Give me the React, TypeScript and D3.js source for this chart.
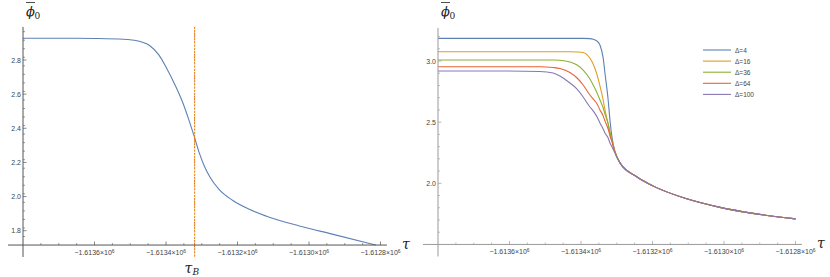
import * as d3 from 'd3';

// left panel: single curve with tau_B marker
const tauLeft = [-1613800, -1613650, -1613600, -1613520, -1613475, -1613446, -1613420, -1613399, -1613375, -1613354, -1613337, -1613320, -1613306, -1613292, -1613278, -1613251, -1613214, -1613167, -1613119, -1613027, -1612935, -1612813];
const phiLeft = [2.927, 2.927, 2.926, 2.922, 2.91, 2.885, 2.83, 2.755, 2.655, 2.555, 2.455, 2.345, 2.25, 2.175, 2.118, 2.04, 1.978, 1.925, 1.885, 1.828, 1.78, 1.716];
const tauB = -1613320;

// right panel: one tau grid, five Delta series
const tauRight = [-1613800, -1613627, -1613515, -1613478, -1613459, -1613431, -1613411, -1613394, -1613375, -1613366, -1613355, -1613347, -1613338, -1613333, -1613324, -1613319, -1613313, -1613305, -1613291, -1613243, -1613199, -1613104, -1613011, -1612919, -1612800];
const phiD4 = [3.185, 3.185, 3.185, 3.185, 3.185, 3.185, 3.185, 3.185, 3.183, 3.178, 3.163, 3.131, 3.025, 2.902, 2.681, 2.518, 2.371, 2.257, 2.167, 2.052, 1.979, 1.873, 1.803, 1.754, 1.709];
const phiD16 = [3.076, 3.076, 3.076, 3.076, 3.076, 3.076, 3.074, 3.069, 3.022, 2.975, 2.886, 2.796, 2.681, 2.6, 2.485, 2.412, 2.338, 2.257, 2.167, 2.052, 1.979, 1.873, 1.803, 1.754, 1.709];
const phiD36 = [3.008, 3.008, 3.008, 3.008, 3.006, 2.992, 2.967, 2.926, 2.853, 2.804, 2.739, 2.681, 2.616, 2.567, 2.485, 2.42, 2.346, 2.257, 2.167, 2.052, 1.979, 1.873, 1.803, 1.754, 1.709];
const phiD64 = [2.953, 2.953, 2.953, 2.947, 2.939, 2.906, 2.861, 2.804, 2.722, 2.69, 2.649, 2.6, 2.551, 2.51, 2.444, 2.387, 2.338, 2.257, 2.167, 2.052, 1.979, 1.873, 1.803, 1.754, 1.709];
const phiD100 = [2.918, 2.918, 2.914, 2.902, 2.877, 2.82, 2.771, 2.706, 2.624, 2.592, 2.542, 2.493, 2.444, 2.412, 2.371, 2.33, 2.297, 2.248, 2.167, 2.052, 1.979, 1.873, 1.803, 1.754, 1.709];
const deltaLabels = ['Δ=4', 'Δ=16', 'Δ=36', 'Δ=64', 'Δ=100'];
const deltaColors = ['#5E81B5', '#E19C24', '#8FB032', '#EB6235', '#8778B3'];

const xTicks = [-1613600, -1613400, -1613200, -1613000, -1612800];
const yTicksLeft = [1.8, 2.0, 2.2, 2.4, 2.6, 2.8];
const yTicksRight = [2.0, 2.5, 3.0];

const W = 830;
const H = 277;
const tickFont = '"Liberation Sans", Arial, sans-serif';
const mathFont = '"DejaVu Serif", "Liberation Serif", serif';

function xLabel(v: number) {
  const m = (-v / 1e6).toFixed(4);
  return (
    <>
      {'−' + m + '×10'}
      <tspan dy={-2.5} fontSize={5}>6</tspan>
    </>
  );
}

type PanelProps = {
  x0: number;
  yDomain: [number, number];
  yRange: [number, number];
  yCross: number;
  yBottom: number;
  yTop: number;
  yMajor: number[];
  yMinorStep: number;
  axisColor: string;
  children: (x: d3.ScaleLinear<number, number>, y: d3.ScaleLinear<number, number>) => any;
};

function Panel({ x0, yDomain, yRange, yCross, yBottom, yTop, yMajor, yMinorStep, axisColor, children }: PanelProps) {
  const x = d3.scaleLinear().domain([-1613800, -1612800]).range([x0, x0 + 357.5]);
  const y = d3.scaleLinear().domain(yDomain).range(yRange);
  const ax = x(-1613800);
  const ay = y(yCross);
  const xMinor = d3.range(-1613750, -1612799, 50).filter((t) => !xTicks.includes(t));
  const yMinor = d3.range(yCross, yTop, yMinorStep)
    .map((v) => +v.toFixed(3))
    .filter((v) => v > yCross && !yMajor.some((m) => Math.abs(m - v) < 1e-6));
  return (
    <g>
      {children(x, y)}
      {/* axes */}
      <line x1={x(-1613842)} x2={x(-1612782)} y1={ay} y2={ay} stroke={axisColor} strokeWidth={1} />
      <line x1={ax} x2={ax} y1={y(yTop)} y2={y(yBottom)} stroke={axisColor} strokeWidth={1} />
      {xTicks.map((t) => (
        <g key={t}>
          <line x1={x(t)} x2={x(t)} y1={ay} y2={ay - 3.5} stroke={axisColor} strokeWidth={0.7} />
          <text x={x(t)} y={ay + 10} textAnchor="middle" fontSize={7} fill="#444" fontFamily={tickFont}>
            {xLabel(t)}
          </text>
        </g>
      ))}
      {xMinor.map((t) => (
        <line key={t} x1={x(t)} x2={x(t)} y1={ay} y2={ay - 2} stroke={axisColor} strokeWidth={0.6} />
      ))}
      {yMajor.map((v) => (
        <g key={v}>
          <line x1={ax} x2={ax + 3.5} y1={y(v)} y2={y(v)} stroke={axisColor} strokeWidth={0.7} />
          <text x={ax - 2} y={y(v) + 2.5} textAnchor="end" fontSize={7} fill="#444" fontFamily={tickFont}>
            {v.toFixed(1)}
          </text>
        </g>
      ))}
      {yMinor.map((v) => (
        <line key={v} x1={ax} x2={ax + 2} y1={y(v)} y2={y(v)} stroke={axisColor} strokeWidth={0.6} />
      ))}
      {/* axis labels */}
      <g fontFamily={mathFont} fontStyle="italic" fill="#222">
        <line x1={ax + 3} x2={ax + 12} y1={2.5} y2={2.5} stroke="#222" strokeWidth={0.8} />
        <text x={ax + 3} y={16} fontSize={13}>ϕ</text>
        <text x={ax + 11.5} y={19} fontSize={9} fontStyle="normal">0</text>
        <text x={x(-1612782) + 15} y={ay + 4} fontSize={14}>τ</text>
      </g>
    </g>
  );
}

export default function App() {
  const line = (x: d3.ScaleLinear<number, number>, y: d3.ScaleLinear<number, number>, taus: number[], phis: number[]) =>
    d3.line<number>()
      .x((_, i) => x(taus[i]))
      .y((d) => y(d))
      .curve(d3.curveMonotoneX)(phis) || '';

  const rightSeries = [phiD4, phiD16, phiD36, phiD64, phiD100];

  return (
    <svg width={W} height={H} style={{ position: 'absolute', left: 0, top: 0, background: '#fff' }}>
      <Panel
        x0={23}
        yDomain={[1.8, 2.8]}
        yRange={[230.7, 60]}
        yCross={1.716}
        yBottom={1.646}
        yTop={2.994}
        yMajor={yTicksLeft}
        yMinorStep={0.05}
        axisColor="#555"
      >
        {(x, y) => (
          <g>
            <path d={line(x, y, tauLeft, phiLeft)} fill="none" stroke="#5E81B5" strokeWidth={1.1} />
            <line x1={x(tauB)} x2={x(tauB)} y1={y(2.994)} y2={y(1.646)} stroke="#EB6235" strokeWidth={1} strokeDasharray="1.5,1.5" />
            <line x1={x(tauB)} x2={x(tauB)} y1={y(2.994)} y2={y(1.646)} stroke="#E19C24" strokeWidth={1.1} strokeDasharray="2,1.5" />
            <g fontFamily={mathFont} fontStyle="italic" fill="#222">
              <text x={x(tauB) - 10} y={273} fontSize={14}>τ</text>
              <text x={x(tauB) - 2} y={275} fontSize={9}>B</text>
            </g>
          </g>
        )}
      </Panel>
      <Panel
        x0={438}
        yDomain={[2.0, 3.0]}
        yRange={[183.3, 61]}
        yCross={1.5}
        yBottom={1.402}
        yTop={3.27}
        yMajor={yTicksRight}
        yMinorStep={0.1}
        axisColor="#999"
      >
        {(x, y) => (
          <g>
            {rightSeries.map((s, i) => (
              <path key={i} d={line(x, y, tauRight, s)} fill="none" stroke={deltaColors[i]} strokeWidth={1.1} />
            ))}
          </g>
        )}
      </Panel>
      {/* legend */}
      <g>
        {deltaLabels.map((lbl, i) => (
          <g key={lbl} transform={`translate(703, ${50 + i * 11.1})`}>
            <line x1={0} x2={28} y1={0} y2={0} stroke={deltaColors[i]} strokeWidth={1.1} />
            <text x={32} y={2.5} fontSize={6.5} fill="#444" fontFamily={tickFont}>{lbl}</text>
          </g>
        ))}
      </g>
    </svg>
  );
}
